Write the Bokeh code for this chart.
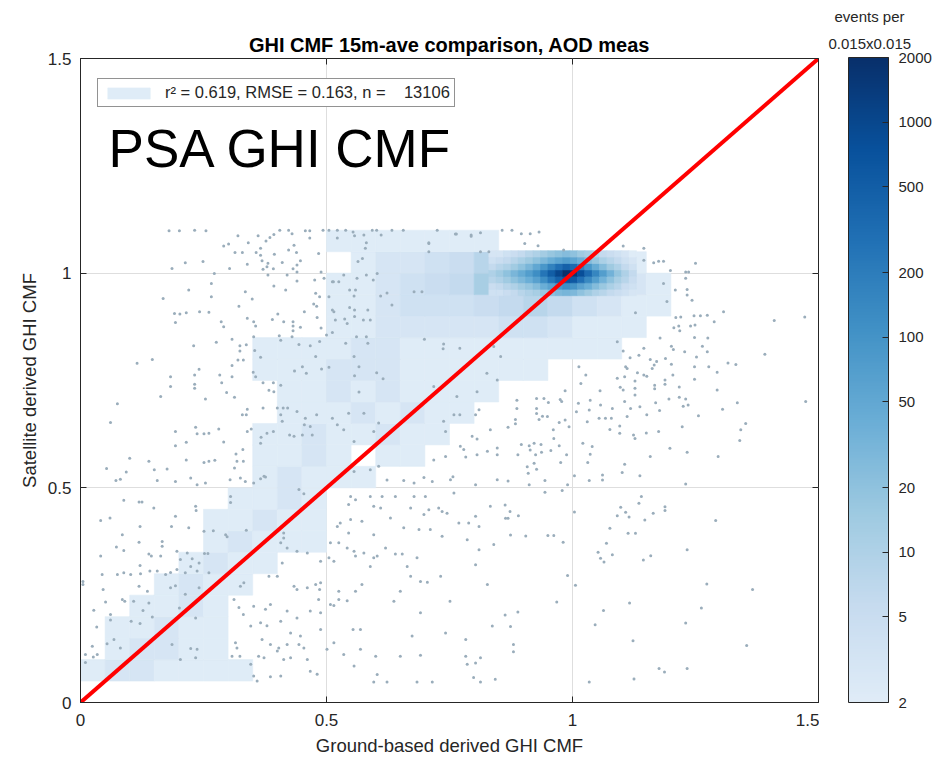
from bokeh.plotting import figure
from bokeh.layouts import row
from bokeh.models import (ColumnDataSource, LogColorMapper, ColorBar, FixedTicker,
                          Label, Legend, LegendItem, Range1d, Title, LinearAxis)
from bokeh.palettes import Blues256
from bokeh.transform import transform
from bokeh.embed import file_html
from bokeh.resources import INLINE

FONT = "Liberation Sans"
TITLE = "GHI CMF 15m-ave comparison, AOD meas"
XLABEL = "Ground-based derived GHI CMF"
YLABEL = "Satellite derived GHI CMF"
AXIS_TICKS = [0, 0.5, 1, 1.5]
AXIS_TICK_TEXT = ["0", "0.5", "1", "1.5"]
CB_TICKS = [2, 5, 10, 20, 50, 100, 200, 500, 1000, 2000]
CB_LOW, CB_HIGH = 2, 2000
CB_TITLE = ["events per", "0.015x0.015"]
STATS_TEXT = "r\u00b2 = 0.619, RMSE = 0.163, n = \u00a0\u00a0\u00a013106"
SITE_TEXT = "PSA GHI CMF"
ONE_TO_ONE = [0, 1.5]

# density (events per bin) on a coarse 0.05 grid: row r covers y in [0.05r, 0.05r+0.05)
COARSE_BIN = 0.05
COARSE_COUNTS = [
    [0] * 26,
    [2, 3, 3, 2, 2, 2, 2] + [0] * 19,
    [0, 2, 3, 3, 2, 2] + [0] * 20,
    [0, 2, 2, 3, 2, 2] + [0] * 20,
    [0, 0, 2, 2, 3, 2] + [0] * 20,
    [0, 0, 0, 2, 3, 2, 2] + [0] * 19,
    [0, 0, 0, 0, 2, 3, 2, 2] + [0] * 18,
    [0, 0, 0, 0, 0, 2, 3, 2, 2, 2] + [0] * 16,
    [0, 0, 0, 0, 0, 2, 2, 3, 2, 2] + [0] * 16,
    [0, 0, 0, 0, 0, 0, 2, 2, 3, 2] + [0] * 16,
    [0, 0, 0, 0, 0, 0, 0, 2, 3, 2, 2, 2] + [0] * 14,
    [0, 0, 0, 0, 0, 0, 0, 2, 2, 3, 2, 0, 2, 2] + [0] * 12,
    [0, 0, 0, 0, 0, 0, 0, 2, 2, 3, 2, 2, 3, 2, 2] + [0] * 11,
    [0, 0, 0, 0, 0, 0, 0, 0, 2, 2, 2, 3, 2, 3, 2, 2] + [0] * 10,
    [0, 0, 0, 0, 0, 0, 0, 0, 2, 2, 3, 2, 3, 2, 2, 2, 2] + [0] * 9,
    [0, 0, 0, 0, 0, 0, 0, 2, 2, 2, 3, 3, 3, 2, 2, 2, 2, 2, 2] + [0] * 7,
    [0, 0, 0, 0, 0, 0, 0, 2, 2, 2, 2, 3, 3, 2, 2, 2, 2, 2, 2, 2, 2, 2] + [0] * 4,
    [0] * 10 + [2, 2, 3, 3, 3, 3, 3, 4, 4, 3, 2, 2, 2, 0, 0, 0],
    [0] * 10 + [2, 2, 3, 4, 4, 4, 5, 6, 8, 6, 4, 3, 2, 2, 0, 0],
    [0] * 10 + [2, 2, 3, 4, 5, 6, 12, 30, 50, 50, 12, 5, 3, 2, 0, 0],
    [0] * 11 + [2, 3, 3, 4, 5, 8, 20, 30, 30, 8, 3, 2, 0, 0, 0],
    [0] * 10 + [2, 2, 2, 2, 2, 2, 2] + [0] * 9,
]

# density on the native 0.015 grid around the peak
FINE_BIN = 0.015
FINE_X0 = 0.83
FINE_Y_CENTERS = [0.955, 0.97, 0.985, 1.0, 1.015, 1.03, 1.045]
FINE_COUNTS = [
    [4, 4, 5, 6, 8, 10, 12, 16, 22, 28, 32, 28, 20, 15, 10, 8, 6, 5, 4, 3],
    [5, 6, 8, 10, 14, 18, 25, 40, 60, 90, 120, 100, 60, 40, 25, 16, 11, 8, 5, 4],
    [8, 10, 14, 20, 28, 40, 65, 120, 240, 450, 700, 600, 300, 140, 70, 35, 20, 12, 8, 5],
    [10, 14, 20, 30, 45, 70, 120, 250, 500, 1000, 2000, 1600, 800, 350, 150, 70, 35, 18, 10, 6],
    [6, 8, 10, 14, 20, 30, 50, 90, 170, 300, 450, 350, 180, 90, 45, 25, 15, 10, 6, 4],
    [4, 5, 6, 8, 11, 15, 20, 28, 40, 55, 70, 55, 38, 26, 17, 11, 8, 6, 4, 3],
    [3, 3, 4, 5, 6, 8, 10, 13, 17, 21, 24, 20, 15, 12, 9, 6, 5, 4, 3, 2],
]

# isolated events (ground CMF, satellite CMF)
SCATTER_POINTS = [
    (0.075, 0.696), (0.061, 0.652), (0.234, 0.641), (0.193, 0.631), (0.237, 0.626), (0.251, 0.626),
    (0.261, 0.627), (0.281, 0.637), (0.291, 0.607), (0.215, 0.606), (0.193, 0.598), (0.100, 0.569),
    (0.139, 0.562), (0.215, 0.565), (0.251, 0.559), (0.261, 0.562), (0.273, 0.564), (0.053, 0.545),
    (0.093, 0.537), (0.150, 0.542), (0.176, 0.544), (0.072, 0.517), (0.081, 0.520), (0.156, 0.517),
    (0.193, 0.515), (0.224, 0.523), (0.237, 0.507), (0.254, 0.511), (0.304, 0.519), (0.325, 0.523),
    (0.335, 0.515), (0.352, 0.511), (0.366, 0.521), (0.376, 0.525), (0.088, 0.471), (0.119, 0.467),
    (0.125, 0.467), (0.149, 0.453), (0.234, 0.457), (0.235, 0.447), (0.305, 0.480), (0.305, 0.466),
    (0.041, 0.424), (0.060, 0.430), (0.121, 0.410), (0.185, 0.410), (0.193, 0.434), (0.220, 0.407),
    (0.251, 0.399), (0.270, 0.400), (0.295, 0.391), (0.298, 0.386), (0.337, 0.401), (0.085, 0.391),
    (0.119, 0.373), (0.166, 0.375), (0.166, 0.364), (0.073, 0.362), (0.088, 0.354), (0.139, 0.346),
    (0.144, 0.341), (0.163, 0.341), (0.196, 0.352), (0.203, 0.333), (0.217, 0.348), (0.227, 0.335),
    (0.252, 0.347), (0.259, 0.347), (0.241, 0.325), (0.041, 0.341), (0.121, 0.319), (0.156, 0.306),
    (0.044, 0.298), (0.075, 0.298), (0.088, 0.302), (0.102, 0.298), (0.122, 0.300), (0.141, 0.306),
    (0.173, 0.298), (0.183, 0.303), (0.196, 0.310), (0.213, 0.302), (0.224, 0.317), (0.237, 0.306),
    (0.261, 0.302), (0.005, 0.282), (0.005, 0.275), (0.046, 0.263), (0.119, 0.271), (0.136, 0.259),
    (0.183, 0.267), (0.193, 0.272), (0.213, 0.252), (0.241, 0.267), (0.085, 0.240), (0.090, 0.236),
    (0.051, 0.234), (0.108, 0.236), (0.139, 0.232), (0.027, 0.215), (0.127, 0.214), (0.146, 0.199),
    (0.201, 0.220), (0.061, 0.205), (0.061, 0.192), (0.103, 0.189), (0.121, 0.184), (0.234, 0.197),
    (0.033, 0.176), (0.068, 0.147), (0.054, 0.137), (0.024, 0.131), (0.034, 0.112), (0.026, 0.106),
    (0.010, 0.112), (0.010, 0.093), (0.081, 0.127), (0.186, 0.135), (0.224, 0.126), (0.237, 0.124),
    (0.203, 0.100), (0.234, 0.104),
    (0.339, 0.683), (0.329, 0.670), (0.337, 0.670), (0.371, 0.686), (0.400, 0.686), (0.412, 0.686),
    (0.421, 0.686), (0.407, 0.670), (0.440, 0.678), (0.410, 0.655), (0.457, 0.662), (0.480, 0.670),
    (0.455, 0.647), (0.467, 0.643), (0.367, 0.618), (0.379, 0.627), (0.392, 0.631), (0.366, 0.604),
    (0.339, 0.631), (0.347, 0.637), (0.425, 0.623), (0.434, 0.620), (0.451, 0.623), (0.471, 0.623),
    (0.316, 0.579), (0.330, 0.589), (0.318, 0.562), (0.331, 0.562), (0.313, 0.546), (0.373, 0.527),
    (0.444, 0.496), (0.454, 0.486), (0.413, 0.395), (0.413, 0.383), (0.407, 0.372), (0.420, 0.360),
    (0.440, 0.352), (0.461, 0.348), (0.488, 0.329), (0.410, 0.325), (0.332, 0.279), (0.325, 0.271),
    (0.383, 0.294), (0.400, 0.294), (0.434, 0.271), (0.440, 0.263), (0.461, 0.267), (0.478, 0.275),
    (0.488, 0.279), (0.486, 0.263), (0.312, 0.240), (0.322, 0.221), (0.352, 0.224), (0.386, 0.228),
    (0.376, 0.217), (0.420, 0.213), (0.440, 0.197), (0.484, 0.240), (0.467, 0.213), (0.488, 0.209),
    (0.331, 0.205), (0.346, 0.178), (0.366, 0.186), (0.379, 0.179), (0.407, 0.189), (0.427, 0.162),
    (0.447, 0.155), (0.488, 0.170), (0.315, 0.139), (0.318, 0.127), (0.369, 0.147), (0.386, 0.135),
    (0.403, 0.127), (0.400, 0.120), (0.420, 0.135), (0.444, 0.135), (0.454, 0.127), (0.362, 0.108),
    (0.373, 0.104), (0.308, 0.108), (0.324, 0.108), (0.346, 0.089), (0.413, 0.100), (0.427, 0.104),
    (0.461, 0.100), (0.352, 0.062), (0.359, 0.050), (0.386, 0.060), (0.407, 0.062), (0.467, 0.073),
    (0.481, 0.066),
    (0.512, 0.662), (0.522, 0.647), (0.535, 0.635), (0.545, 0.674), (0.576, 0.674), (0.556, 0.608),
    (0.596, 0.631), (0.606, 0.651), (0.738, 0.655), (0.742, 0.631), (0.759, 0.670), (0.771, 0.670),
    (0.803, 0.670), (0.810, 0.682), (0.796, 0.620), (0.806, 0.614), (0.833, 0.635), (0.772, 0.597),
    (0.779, 0.589), (0.718, 0.565), (0.742, 0.573), (0.783, 0.572), (0.806, 0.577), (0.827, 0.585),
    (0.847, 0.593), (0.847, 0.577), (0.556, 0.538), (0.589, 0.542), (0.606, 0.550), (0.623, 0.518),
    (0.657, 0.517), (0.678, 0.511), (0.698, 0.524), (0.715, 0.515), (0.752, 0.519), (0.757, 0.526),
    (0.803, 0.507), (0.847, 0.519), (0.549, 0.480), (0.559, 0.472), (0.589, 0.480), (0.613, 0.480),
    (0.640, 0.480), (0.678, 0.480), (0.701, 0.480), (0.759, 0.488), (0.545, 0.461), (0.596, 0.457),
    (0.610, 0.453), (0.671, 0.453), (0.698, 0.438), (0.708, 0.449), (0.728, 0.453), (0.735, 0.445),
    (0.745, 0.441), (0.803, 0.434), (0.833, 0.457), (0.522, 0.410), (0.528, 0.418), (0.549, 0.426),
    (0.572, 0.422), (0.545, 0.395), (0.596, 0.391), (0.630, 0.430), (0.657, 0.407), (0.688, 0.403),
    (0.711, 0.403), (0.735, 0.387), (0.769, 0.418), (0.789, 0.418), (0.786, 0.379), (0.810, 0.410),
    (0.508, 0.372), (0.525, 0.372), (0.542, 0.360), (0.556, 0.352), (0.559, 0.341), (0.576, 0.348),
    (0.596, 0.337), (0.603, 0.341), (0.620, 0.360), (0.640, 0.346), (0.654, 0.346), (0.664, 0.317),
    (0.684, 0.337), (0.840, 0.368), (0.810, 0.356), (0.803, 0.321), (0.505, 0.337), (0.515, 0.329),
    (0.589, 0.317), (0.671, 0.294), (0.691, 0.282), (0.705, 0.280), (0.732, 0.294), (0.827, 0.275),
    (0.525, 0.259), (0.559, 0.259), (0.572, 0.275), (0.650, 0.259), (0.525, 0.240), (0.542, 0.237),
    (0.637, 0.236), (0.691, 0.209), (0.751, 0.236), (0.508, 0.228), (0.515, 0.226), (0.837, 0.178),
    (0.554, 0.170), (0.569, 0.170), (0.674, 0.155), (0.742, 0.162), (0.783, 0.147), (0.515, 0.139),
    (0.501, 0.124), (0.535, 0.112), (0.569, 0.124), (0.600, 0.108), (0.650, 0.108), (0.691, 0.110),
    (0.783, 0.108), (0.786, 0.089), (0.813, 0.104), (0.803, 0.092), (0.556, 0.085), (0.603, 0.065),
    (0.596, 0.048), (0.623, 0.048), (0.684, 0.048), (0.715, 0.048), (0.799, 0.058), (0.813, 0.048),
    (0.843, 0.054),
    (1.128, 0.908), (1.307, 0.910), (1.410, 0.890), (1.472, 0.898), (1.210, 0.897), (1.220, 0.898),
    (1.247, 0.901), (1.260, 0.901), (1.274, 0.902), (1.206, 0.873), (1.216, 0.877), (1.218, 0.866),
    (1.240, 0.877), (1.249, 0.879), (1.288, 0.887), (1.178, 0.849), (1.248, 0.850), (1.275, 0.849),
    (1.091, 0.840), (1.145, 0.825), (1.201, 0.830), (1.205, 0.822), (1.228, 0.817), (1.264, 0.830),
    (1.274, 0.817), (1.391, 0.811), (1.103, 0.819), (1.117, 0.803), (1.135, 0.809), (1.158, 0.799),
    (1.171, 0.794), (1.189, 0.801), (1.252, 0.805), (1.316, 0.791), (1.332, 0.787), (1.013, 0.782),
    (1.027, 0.763), (1.108, 0.782), (1.111, 0.778), (1.132, 0.768), (1.145, 0.763), (1.151, 0.760),
    (1.162, 0.778), (1.166, 0.786), (1.201, 0.788), (1.248, 0.782), (1.248, 0.753), (1.277, 0.782),
    (1.294, 0.769), (1.091, 0.755), (1.106, 0.759), (1.127, 0.749), (1.167, 0.739), (1.167, 0.731),
    (1.188, 0.751), (1.188, 0.741), (1.204, 0.763), (1.017, 0.743), (0.985, 0.726), (1.056, 0.726),
    (1.097, 0.734), (1.103, 0.728), (1.127, 0.732), (1.127, 0.716), (1.217, 0.735), (1.294, 0.728),
    (1.474, 0.701), (0.887, 0.704), (0.887, 0.685), (0.927, 0.708), (0.927, 0.685), (0.942, 0.708),
    (0.951, 0.699), (0.975, 0.706), (0.978, 0.701), (1.012, 0.697), (1.008, 0.677), (1.036, 0.704),
    (1.057, 0.693), (1.034, 0.681), (1.081, 0.685), (1.106, 0.701), (1.118, 0.685), (1.137, 0.689),
    (1.151, 0.670), (1.169, 0.698), (1.177, 0.680), (1.196, 0.707), (1.217, 0.711), (1.230, 0.707),
    (1.225, 0.690), (1.235, 0.693), (1.256, 0.668), (1.305, 0.683), (1.335, 0.698), (0.869, 0.641),
    (0.884, 0.659), (0.884, 0.649), (0.927, 0.673), (0.939, 0.667), (0.949, 0.666), (0.961, 0.635),
    (0.962, 0.615), (0.973, 0.652), (0.985, 0.658), (0.993, 0.642), (0.932, 0.659), (1.030, 0.654),
    (1.054, 0.662), (1.067, 0.662), (1.079, 0.662), (1.076, 0.636), (1.096, 0.644), (1.096, 0.627),
    (1.111, 0.666), (1.124, 0.623), (1.127, 0.615), (1.150, 0.628), (1.175, 0.631), (1.223, 0.642),
    (1.342, 0.635), (1.352, 0.650), (1.340, 0.610), (0.896, 0.601), (0.912, 0.598), (0.922, 0.604),
    (0.936, 0.601), (0.914, 0.588), (0.925, 0.577), (0.937, 0.583), (0.956, 0.587), (0.973, 0.598),
    (0.988, 0.577), (0.889, 0.577), (0.908, 0.549), (0.922, 0.557), (0.927, 0.543), (0.910, 0.534),
    (0.976, 0.559), (1.021, 0.604), (1.040, 0.596), (1.036, 0.578), (1.031, 0.559), (1.004, 0.528),
    (1.034, 0.517), (1.061, 0.530), (1.061, 0.518), (1.106, 0.555), (1.101, 0.536), (1.137, 0.528),
    (1.158, 0.573), (1.198, 0.592), (1.233, 0.583), (1.296, 0.573), (1.230, 0.509), (0.869, 0.516),
    (0.912, 0.507), (0.944, 0.517), (0.990, 0.507), (0.944, 0.490), (0.979, 0.494), (0.863, 0.460),
    (0.873, 0.445), (0.864, 0.429), (0.869, 0.429), (0.890, 0.435), (1.004, 0.444), (0.874, 0.390),
    (0.905, 0.388), (0.950, 0.389), (0.962, 0.389), (0.981, 0.373), (0.990, 0.296), (1.006, 0.273),
    (0.968, 0.234), (0.863, 0.204), (0.889, 0.211), (0.874, 0.177), (0.880, 0.135), (0.880, 0.118),
    (1.034, 0.048), (1.140, 0.480), (1.135, 0.464), (1.098, 0.455), (1.091, 0.435), (1.108, 0.443),
    (1.115, 0.432), (1.164, 0.441), (1.188, 0.456), (1.188, 0.447), (1.147, 0.425), (1.291, 0.424),
    (1.076, 0.406), (1.113, 0.394), (1.128, 0.394), (1.069, 0.371), (1.052, 0.350), (1.057, 0.336),
    (1.064, 0.327), (1.081, 0.344), (1.144, 0.332), (1.159, 0.342), (1.233, 0.356), (1.273, 0.276),
    (1.366, 0.263), (1.116, 0.232), (1.063, 0.214), (1.046, 0.181), (1.262, 0.220), (1.230, 0.185),
    (1.123, 0.144), (1.354, 0.133), (1.176, 0.079), (1.187, 0.071), (1.233, 0.079), (1.125, 0.055),
    (0.180, 1.099), (0.201, 1.099), (0.232, 1.100), (0.255, 1.099), (0.320, 1.087), (0.291, 1.063),
    (0.301, 1.068), (0.314, 1.048), (0.329, 1.048), (0.341, 1.071), (0.357, 1.048), (0.361, 1.087),
    (0.377, 1.075), (0.385, 1.083), (0.393, 1.090), (0.405, 1.100), (0.423, 1.100), (0.430, 1.092),
    (0.366, 1.058), (0.366, 1.042), (0.369, 1.029), (0.381, 1.023), (0.339, 1.021), (0.394, 1.044),
    (0.423, 1.054), (0.434, 1.065), (0.439, 1.048), (0.447, 1.029), (0.440, 1.019), (0.410, 1.025),
    (0.371, 1.009), (0.379, 1.015), (0.392, 1.010), (0.432, 1.010), (0.457, 1.099), (0.466, 1.099),
    (0.493, 1.100), (0.466, 1.082), (0.484, 1.046), (0.489, 1.003), (0.505, 1.100), (0.522, 1.100),
    (0.522, 1.082), (0.539, 1.100), (0.554, 1.096), (0.557, 1.087), (0.576, 1.089), (0.581, 1.071),
    (0.579, 1.058), (0.593, 1.100), (0.602, 1.100), (0.611, 1.089), (0.633, 1.100), (0.656, 1.100),
    (0.725, 1.100), (0.764, 1.091), (0.794, 1.089), (0.708, 1.069), (0.708, 1.050), (0.564, 1.027),
    (0.573, 1.034), (0.186, 1.011), (0.213, 1.024), (0.249, 1.027), (0.303, 1.011), (0.272, 0.999),
    (0.381, 0.996), (0.420, 0.996), (0.440, 1.003), (0.476, 0.984), (0.495, 0.988), (0.512, 0.980),
    (0.525, 0.980), (0.535, 0.996), (0.562, 0.988), (0.581, 0.996), (0.595, 0.984), (0.603, 0.999),
    (0.266, 0.976), (0.168, 0.941), (0.220, 0.961), (0.266, 0.945), (0.335, 0.957), (0.349, 0.940),
    (0.393, 0.970), (0.417, 0.961), (0.440, 0.982), (0.478, 0.953), (0.486, 0.945), (0.505, 0.945),
    (0.514, 0.980), (0.547, 0.961), (0.559, 0.961), (0.556, 0.947), (0.610, 0.947), (0.623, 0.954),
    (0.678, 0.957), (0.694, 0.957), (0.191, 0.906), (0.202, 0.905), (0.215, 0.908), (0.242, 0.910),
    (0.261, 0.909), (0.193, 0.885), (0.322, 0.923), (0.401, 0.905), (0.474, 0.928), (0.480, 0.923),
    (0.455, 0.910), (0.512, 0.914), (0.515, 0.910), (0.547, 0.920), (0.557, 0.914), (0.584, 0.914),
    (0.633, 0.926), (0.286, 0.887), (0.291, 0.875), (0.339, 0.895), (0.352, 0.887), (0.356, 0.877),
    (0.390, 0.892), (0.413, 0.887), (0.432, 0.887), (0.432, 0.877), (0.447, 0.874), (0.481, 0.897),
    (0.489, 0.872), (0.518, 0.891), (0.537, 0.893), (0.542, 0.883), (0.557, 0.899), (0.575, 0.891),
    (0.589, 0.891), (0.230, 0.831), (0.276, 0.839), (0.308, 0.846), (0.324, 0.831), (0.337, 0.833),
    (0.352, 0.852), (0.354, 0.820), (0.366, 0.804), (0.324, 0.819), (0.320, 0.798), (0.331, 0.798),
    (0.404, 0.854), (0.407, 0.844), (0.432, 0.866), (0.430, 0.852), (0.444, 0.834), (0.467, 0.831),
    (0.486, 0.841), (0.500, 0.856), (0.512, 0.862), (0.539, 0.837), (0.561, 0.852), (0.581, 0.852),
    (0.584, 0.837), (0.556, 0.806), (0.566, 0.782), (0.478, 0.806), (0.505, 0.781), (0.115, 0.790),
    (0.146, 0.799), (0.183, 0.759), (0.183, 0.736), (0.163, 0.713), (0.232, 0.763), (0.232, 0.741),
    (0.232, 0.732), (0.241, 0.776), (0.254, 0.707), (0.283, 0.763), (0.287, 0.745), (0.308, 0.785),
    (0.308, 0.759), (0.351, 0.769), (0.356, 0.759), (0.371, 0.745), (0.392, 0.745), (0.297, 0.722),
    (0.313, 0.711), (0.383, 0.727), (0.393, 0.724), (0.407, 0.739), (0.435, 0.772), (0.451, 0.782),
    (0.459, 0.767), (0.490, 0.777), (0.602, 0.768), (0.615, 0.754), (0.557, 0.761), (0.566, 0.723),
    (0.857, 1.100), (0.877, 1.100), (0.896, 1.092), (0.914, 1.092), (0.932, 1.096), (0.903, 1.069),
    (0.930, 1.064), (0.813, 1.094), (0.794, 1.086), (0.762, 1.091), (0.708, 1.071), (0.813, 1.050),
    (0.830, 1.050), (0.982, 1.054), (1.103, 1.063), (1.145, 1.058), (1.145, 1.030), (1.165, 1.024),
    (1.175, 1.028), (1.185, 1.028), (1.250, 1.023), (1.199, 1.006), (1.230, 1.003), (1.236, 1.003),
    (1.230, 0.988), (1.185, 0.976), (1.209, 0.961), (1.233, 0.962), (1.233, 0.949), (1.243, 0.937),
    (1.192, 0.934), (0.699, 0.846), (0.738, 0.835), (0.737, 0.824), (0.771, 0.825), (0.840, 0.829),
    (0.854, 0.806), (0.826, 0.767), (0.847, 0.751), (0.718, 0.736), (0.765, 0.713), (0.806, 0.724),
]

TEXT_COLOR = "#262626"

# ---- derived sources ----
cx, cy, cv = [], [], []
for r, row_vals in enumerate(COARSE_COUNTS):
    for c, v in enumerate(row_vals):
        if v > 0:
            cx.append((c + 0.5) * COARSE_BIN)
            cy.append((r + 0.5) * COARSE_BIN)
            cv.append(v)
coarse_src = ColumnDataSource(dict(x=cx, y=cy, v=cv))

fx, fy, fv = [], [], []
for yc, row_vals in zip(FINE_Y_CENTERS, FINE_COUNTS):
    for i, v in enumerate(row_vals):
        fx.append(FINE_X0 + (i + 0.5) * FINE_BIN)
        fy.append(yc)
        fv.append(v)
fine_src = ColumnDataSource(dict(x=fx, y=fy, v=fv))

pts_src = ColumnDataSource(dict(x=[q[0] for q in SCATTER_POINTS], y=[q[1] for q in SCATTER_POINTS]))

palette = list(reversed(Blues256))[30:]
mapper = LogColorMapper(palette=palette, low=CB_LOW, high=CB_HIGH)

p = figure(width=819, height=758, output_backend="svg", toolbar_location=None,
           x_range=Range1d(0, 1.5), y_range=Range1d(0, 1.5),
           min_border_left=80, min_border_right=1, min_border_top=58, min_border_bottom=55)
p.background_fill_color = "white"
p.border_fill_color = "white"
p.outline_line_color = TEXT_COLOR
p.outline_line_width = 1

p.title.text = TITLE
p.title.align = "center"
p.title.text_font = FONT
p.title.text_font_size = "20px"
p.title.text_font_style = "bold"
p.title.text_color = "#000000"
p.title.standoff = 6

for ax in (p.xaxis[0], p.yaxis[0]):
    ax.ticker = FixedTicker(ticks=AXIS_TICKS)
    ax.major_label_overrides = {float(t): s for t, s in zip(AXIS_TICKS, AXIS_TICK_TEXT)}
    ax.major_tick_in = 6
    ax.major_tick_out = 0
    ax.minor_tick_line_color = None
    ax.axis_line_color = TEXT_COLOR
    ax.major_tick_line_color = TEXT_COLOR
    ax.major_label_text_font = FONT
    ax.major_label_text_font_size = "17px"
    ax.major_label_text_color = TEXT_COLOR
    ax.axis_label_text_font = FONT
    ax.axis_label_text_font_size = "18.5px"
    ax.axis_label_text_font_style = "normal"
    ax.axis_label_text_color = TEXT_COLOR
p.xaxis.axis_label = XLABEL
p.yaxis.axis_label = YLABEL
p.xaxis.major_label_standoff = 11
p.yaxis.major_label_standoff = 9
p.xaxis.axis_label_standoff = 6
p.yaxis.axis_label_standoff = 5

# mirrored tick marks on the top and right edges of the box
for side in ("above", "right"):
    mirror = LinearAxis(ticker=FixedTicker(ticks=AXIS_TICKS),
                        major_label_overrides={float(t): "" for t in AXIS_TICKS},
                        major_label_text_font_size="1px", major_label_standoff=0,
                        major_tick_in=6, major_tick_out=0, minor_tick_line_color=None,
                        axis_line_color=None, major_tick_line_color=TEXT_COLOR)
    p.add_layout(mirror, side)

p.xgrid.ticker = FixedTicker(ticks=AXIS_TICKS)
p.ygrid.ticker = FixedTicker(ticks=AXIS_TICKS)
p.grid.grid_line_color = "#dedede"
p.grid.grid_line_width = 1

heat = p.rect(x="x", y="y", width=COARSE_BIN, height=COARSE_BIN, source=coarse_src,
              fill_color=transform("v", mapper), line_color=transform("v", mapper), line_width=0.6)
p.rect(x="x", y="y", width=FINE_BIN, height=FINE_BIN, source=fine_src,
       fill_color=transform("v", mapper), line_color=transform("v", mapper), line_width=0.6)
p.scatter(x="x", y="y", source=pts_src, size=3.0, fill_color="#9aadbb", line_color=None)
p.line(ONE_TO_ONE, ONE_TO_ONE, line_color="#ff0000", line_width=4)

legend = Legend(items=[LegendItem(label=STATS_TEXT, renderers=[heat], index=0)],
                location=(17, 595), orientation="vertical",
                glyph_width=53, glyph_height=14, label_standoff=10, padding=4, margin=0,
                label_text_font=FONT, label_text_font_size="16.5px", label_text_color=TEXT_COLOR,
                border_line_color=TEXT_COLOR, border_line_width=1, background_fill_alpha=1,
                label_height=14)
p.add_layout(legend)

p.add_layout(Label(x=0.057, y=1.29, text=SITE_TEXT, text_font=FONT, text_font_size="53px",
                   text_color="#000000", text_baseline="alphabetic"))

# colour bar panel (pixel coordinates inside its own frame)
cbf = figure(width=114, height=758, output_backend="svg", toolbar_location=None, title=None,
             x_range=Range1d(0, 114), y_range=Range1d(0, 645),
             min_border=0, min_border_left=0, min_border_right=0, min_border_top=58, min_border_bottom=55)
cbf.axis.visible = False
cbf.grid.visible = False
cbf.outline_line_color = None
cbf.background_fill_color = "white"
cbf.border_fill_color = "white"

cb = ColorBar(color_mapper=mapper, ticker=FixedTicker(ticks=CB_TICKS), width=40, height=645,
              margin=0, padding=0, label_standoff=10, major_tick_in=6, major_tick_out=0,
              major_tick_line_color=TEXT_COLOR, bar_line_color=TEXT_COLOR, minor_tick_line_color=None,
              major_label_text_font=FONT, major_label_text_font_size="15px",
              major_label_text_color=TEXT_COLOR, background_fill_alpha=0, location=(29, 0))
cbf.add_layout(cb)

cbf.add_layout(Title(text=CB_TITLE[1], align="left", offset=9, standoff=14, text_font=FONT,
                     text_font_size="15px", text_font_style="normal", text_color=TEXT_COLOR), "above")
cbf.add_layout(Title(text=CB_TITLE[0], align="left", offset=15, standoff=1, text_font=FONT,
                     text_font_size="15px", text_font_style="normal", text_color=TEXT_COLOR), "above")

layout = row(p, cbf, spacing=0)
open("out.html", "w").write(file_html(layout, INLINE))
